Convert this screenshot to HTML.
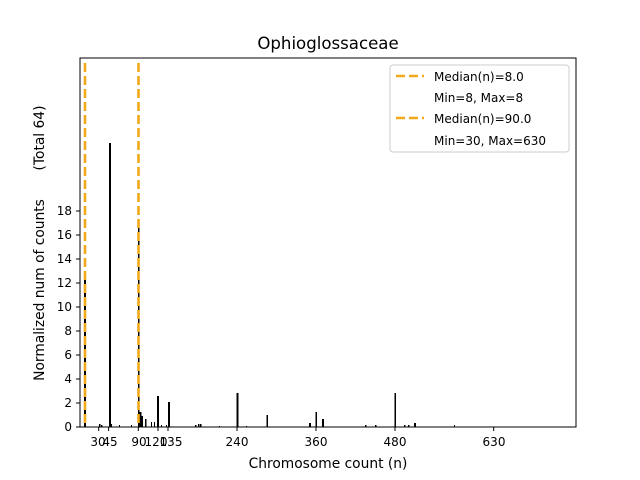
<!DOCTYPE html>
<html><head><style>body{margin:0;background:#fff}svg{display:block}text{font-family:"DejaVu Sans","Liberation Sans",sans-serif;fill:#000}</style></head><body>
<svg width="640" height="480" viewBox="0 0 640 480">
<rect width="640" height="480" fill="#fff"/>
<text x="328" y="49" font-size="16.6" text-anchor="middle">Ophioglossaceae</text>
<g fill="#000">
<rect x="84" y="271" width="2" height="156"/>
<rect x="99" y="424" width="1.5" height="3"/>
<rect x="101" y="425" width="1.5" height="2"/>
<rect x="109" y="143" width="2" height="284"/>
<rect x="111" y="424" width="1" height="3"/>
<rect x="119" y="425" width="1" height="2"/>
<rect x="131" y="425" width="1" height="2"/>
<rect x="138" y="224" width="1.5" height="203"/>
<rect x="139.5" y="412" width="2" height="15"/>
<rect x="141.5" y="416" width="1.5" height="11"/>
<rect x="145" y="419" width="1.5" height="8"/>
<rect x="151" y="422" width="1" height="5"/>
<rect x="154" y="422" width="1" height="5"/>
<rect x="157" y="396" width="2" height="31"/>
<rect x="161" y="425" width="1" height="2"/>
<rect x="166" y="425" width="1" height="2"/>
<rect x="168" y="402" width="2" height="25"/>
<rect x="195" y="425" width="1.5" height="2"/>
<rect x="198" y="424" width="1.5" height="3"/>
<rect x="200" y="424" width="1.5" height="3"/>
<rect x="219" y="426" width="1" height="1"/>
<rect x="236.5" y="393" width="2" height="34"/>
<rect x="246" y="426" width="1" height="1"/>
<rect x="266.5" y="415" width="1.5" height="12"/>
<rect x="309" y="423" width="2" height="4"/>
<rect x="315.5" y="412" width="1.5" height="15"/>
<rect x="322" y="419" width="2" height="8"/>
<rect x="365" y="425" width="1.5" height="2"/>
<rect x="375" y="425" width="1.5" height="2"/>
<rect x="394.5" y="393" width="1.5" height="34"/>
<rect x="404" y="425" width="1.5" height="2"/>
<rect x="408" y="425" width="1.5" height="2"/>
<rect x="414" y="423" width="2" height="4"/>
<rect x="454" y="425" width="1" height="2"/>
</g>
<line x1="85" y1="63" x2="85" y2="427" stroke="#f2a91c" stroke-width="2.6" stroke-dasharray="9,4"/>
<line x1="138.5" y1="63" x2="138.5" y2="427" stroke="#f2a91c" stroke-width="2.6" stroke-dasharray="9,4"/>
<rect x="80" y="58" width="496" height="369" fill="none" stroke="#000" stroke-width="1"/>
<g stroke="#000" stroke-width="1">
<line x1="76" x2="80" y1="427" y2="427"/><line x1="76" x2="80" y1="403" y2="403"/><line x1="76" x2="80" y1="379" y2="379"/><line x1="76" x2="80" y1="355" y2="355"/><line x1="76" x2="80" y1="331" y2="331"/><line x1="76" x2="80" y1="307" y2="307"/><line x1="76" x2="80" y1="283" y2="283"/><line x1="76" x2="80" y1="259" y2="259"/><line x1="76" x2="80" y1="235" y2="235"/><line x1="76" x2="80" y1="211" y2="211"/>
<line x1="98.7" x2="98.7" y1="427" y2="431"/><line x1="108.6" x2="108.6" y1="427" y2="431"/><line x1="138.3" x2="138.3" y1="427" y2="431"/><line x1="158" x2="158" y1="427" y2="431"/><line x1="168" x2="168" y1="427" y2="431"/><line x1="237" x2="237" y1="427" y2="431"/><line x1="316" x2="316" y1="427" y2="431"/><line x1="395" x2="395" y1="427" y2="431"/><line x1="493.7" x2="493.7" y1="427" y2="431"/>
</g>
<g font-size="12" text-anchor="end">
<text x="72" y="431">0</text><text x="72" y="407">2</text><text x="72" y="383">4</text><text x="72" y="359">6</text><text x="72" y="335">8</text><text x="72" y="311">10</text><text x="72" y="287">12</text><text x="72" y="263">14</text><text x="72" y="239">16</text><text x="72" y="215">18</text>
</g>
<g font-size="12" text-anchor="middle">
<text x="98" y="446">30</text><text x="110" y="446">45</text><text x="139" y="446">90</text><text x="156" y="446">120</text><text x="171" y="446">135</text><text x="237" y="446">240</text><text x="316" y="446">360</text><text x="395" y="446">480</text><text x="494" y="446">630</text>
</g>
<text x="328" y="468" font-size="13.8" text-anchor="middle">Chromosome count (n)</text>
<text transform="translate(44,290) rotate(-90)" font-size="13.8" text-anchor="middle">Normalized num of counts</text>
<text transform="translate(44,138) rotate(-90)" font-size="13.8" text-anchor="middle">(Total 64)</text>
<rect x="390" y="65" width="179" height="87" rx="3" fill="#fff" stroke="#ccc" stroke-width="1"/>
<line x1="396" x2="424" y1="76" y2="76" stroke="#f2a91c" stroke-width="2.6" stroke-dasharray="9,4"/>
<line x1="396" x2="424" y1="118" y2="118" stroke="#f2a91c" stroke-width="2.6" stroke-dasharray="9,4"/>
<g font-size="12">
<text x="434" y="81">Median(n)=8.0</text>
<text x="434" y="102">Min=8, Max=8</text>
<text x="434" y="123">Median(n)=90.0</text>
<text x="434" y="145">Min=30, Max=630</text>
</g>
</svg>
</body></html>
